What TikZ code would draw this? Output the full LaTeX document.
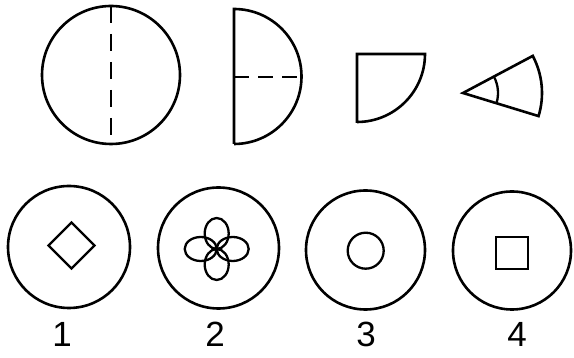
\documentclass[tikz,border=0pt]{standalone}
\usepackage{fontspec}
\setmainfont{Liberation Sans}
\begin{document}
\begin{tikzpicture}[x=1pt,y=1pt,
  shape line/.style={line width=2.6pt,black},
  inner line/.style={line width=2.3pt,black},
  dash line/.style={line width=2.6pt,dash pattern=on 17pt off 11pt},
  numlabel/.style={font=\fontsize{35}{35}\selectfont,inner sep=0pt}]
\useasboundingbox (0,0) rectangle (574,358);
% top row
\draw[shape line] (111,283) circle (69pt);
\draw[dash line] (111,352) -- (111,214);
\draw[shape line] (234,214) -- (234,349) arc (90:-90:67.5pt);
\draw[line width=2.6pt,dash pattern=on 15pt off 9pt] (234,281) -- (302,281);
\draw[shape line] (357,235) -- (357,304) -- (425,304) arc (0:-90:68pt);
\coordinate (apex) at (463,265);
\draw[shape line] (apex) -- ++(28:79pt) arc (28:-17:79pt) -- cycle;
\draw[inner line] (apex) ++(28:35pt) arc (28:-17:35pt);
% bottom row
\draw[shape line] (69,111) circle (61pt);
\draw[shape line] (218.5,110) circle (60.5pt);
\draw[shape line] (365.5,108) circle (59.5pt);
\draw[shape line] (512,107.5) circle (59pt);
% inner shapes
\draw[inner line] (71.5,135.5) -- (94.5,112.5) -- (71.5,89.5) -- (48.5,112.5) -- cycle;
\draw[inner line] (216.7,124.5) ellipse (12pt and 15.5pt);
\draw[inner line] (216.7,93.5) ellipse (12pt and 15.5pt);
\draw[inner line] (200.7,109) ellipse (16pt and 12pt);
\draw[inner line] (232.7,109) ellipse (16pt and 12pt);
\draw[inner line] (365.7,107.3) circle (18pt);
\draw[inner line] (496,89) rectangle (528,121);
% labels
\node[numlabel] (l1) at (62,23.5) {1};
\node[numlabel] (l2) at (215,23.5) {2};
\node[numlabel] (l3) at (366,23.5) {3};
\node[numlabel] (l4) at (517,23.5) {4};
\end{tikzpicture}
\end{document}
